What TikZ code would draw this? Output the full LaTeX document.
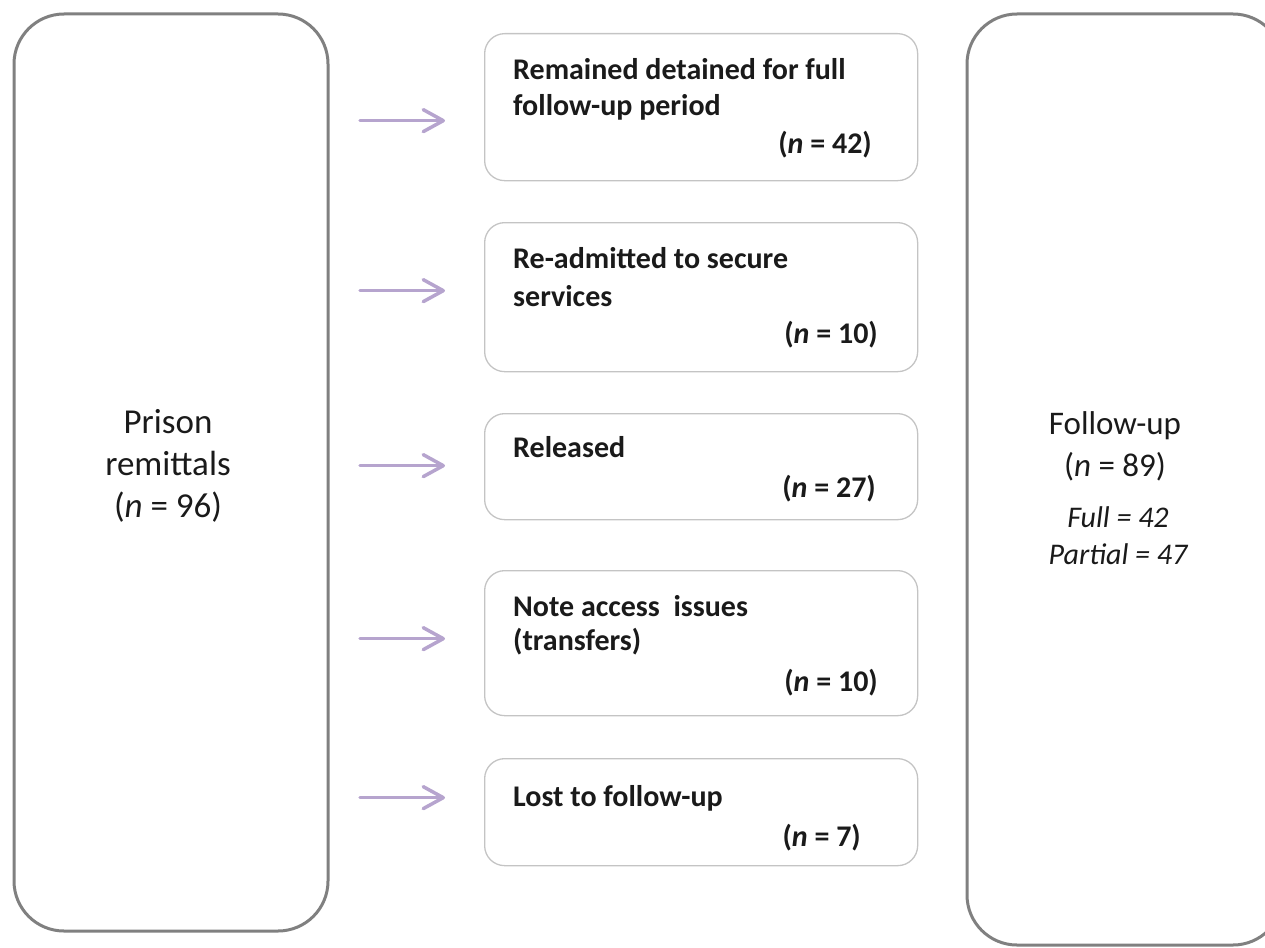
\documentclass[tikz,border=0pt]{standalone}
\usepackage{fontspec}
\setmainfont{Carlito}
\usetikzlibrary{arrows.meta}
\definecolor{framegray}{HTML}{808080}
\definecolor{thingray}{HTML}{C4C4C4}
\definecolor{lilac}{HTML}{B6A4CE}
\definecolor{ink}{HTML}{1A1A1A}
\begin{document}
\begin{tikzpicture}[x=1pt,y=-1pt,
  bigbox/.style={draw=framegray, line width=3pt, rounded corners=50pt, anchor=north west, inner sep=0pt, outer sep=0pt},
  stagebox/.style={draw=thingray, line width=1.3pt, rounded corners=20pt, anchor=north west, minimum width=433pt, inner sep=0pt},
  lbl/.style={font=\fontsize{30}{36}\selectfont\bfseries, text=ink, anchor=base west, inner sep=0pt},
  cnt/.style={font=\fontsize{30}{36}\selectfont\bfseries, text=ink, anchor=base east, inner sep=0pt},
  feed/.style={draw=lilac, line width=3.5pt, line cap=round,
    -{Straight Barb[length=20pt,width=22pt,round]}, shorten <=32pt, shorten >=39pt}]
\useasboundingbox (0,0) rectangle (1265,947);

% source frame, and the destination frame that runs past the page edge
\node[bigbox, minimum width=314pt, minimum height=917pt] (src) at (14,14) {};
\node[bigbox, minimum width=316pt, minimum height=931pt] (dst) at (967,14) {};

\node[font=\fontsize{35}{42}\selectfont, text=ink, align=center] (srctext) at (168,466)
  {Prison\\remittals\\(\textit{n} = 96)};
\node[font=\fontsize{33}{42}\selectfont, text=ink, align=center] (dsttext) at (1115,446)
  {Follow-up\\(\textit{n} = 89)};
\node[font=\fontsize{30}{37}\selectfont\itshape, text=ink, align=center] (dstsplit) at (1118,536)
  {Full = 42\\Partial = 47};

% outcome boxes
\node[stagebox, minimum height=147pt] (s1) at (484,33) {};
\node[stagebox, minimum height=149pt] (s2) at (484,222) {};
\node[stagebox, minimum height=106pt] (s3) at (484,413) {};
\node[stagebox, minimum height=145pt] (s4) at (484,570) {};
\node[stagebox, minimum height=107pt] (s5) at (484,758) {};

\node[lbl] (s1a) at (513,80) {Remained detained for full};
\node[lbl] (s1b) at (513,116) {follow-up period};
\node[cnt] (s1n) at (872,153) {(\textit{n} = 42)};

\node[lbl] (s2a) at (513,268) {Re-admitted to secure};
\node[lbl] (s2b) at (513,306) {services};
\node[cnt] (s2n) at (878,343) {(\textit{n} = 10)};

\node[lbl] (s3a) at (513,457) {Released};
\node[cnt] (s3n) at (876,497) {(\textit{n} = 27)};

\node[lbl] (s4a) at (513,616) {Note access\ \ issues};
\node[lbl] (s4b) at (513,650) {(transfers)};
\node[cnt] (s4n) at (878,691) {(\textit{n} = 10)};

\node[lbl] (s5a) at (513,806) {Lost to follow-up};
\node[cnt] (s5n) at (861,846) {(\textit{n} = 7)};

% arrows from the source frame to each outcome
\coordinate (t1) at ([yshift=-13.5pt]s1.west);
\coordinate (t2) at ([yshift=6.5pt]s2.west);
\coordinate (t3) at ([yshift=1pt]s3.west);
\coordinate (t4) at ([yshift=4.5pt]s4.west);
\coordinate (t5) at ([yshift=14.5pt]s5.west);
\foreach \t in {t1,t2,t3,t4,t5}
  \draw[feed] (src.east |- \t) -- (\t);
\end{tikzpicture}
\end{document}
